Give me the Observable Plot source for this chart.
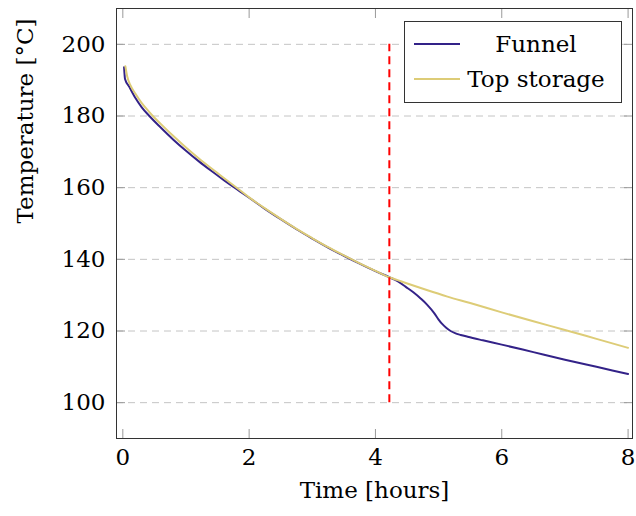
<!DOCTYPE html>
<html>
<head>
<meta charset="utf-8">
<script src="https://cdn.jsdelivr.net/npm/d3@7"></script>
<script src="https://cdn.jsdelivr.net/npm/@observablehq/plot@0.6"></script>
<style>
  body { margin: 0; background: #fff; }
  #wrap { position: relative; width: 636px; height: 516px; }
  #legend { position: absolute; left: 404px; top: 21px; width: 216px; height: 80px;
            border: 1px solid #333; background: #fff; font-family: 'DejaVu Serif', serif; font-size: 23px; color: #000; }
  .row { position: absolute; left: 0; width: 100%; height: 30px; }
  .swatch { position: absolute; left: 9px; width: 46px; height: 2px; top: 14px; }
  .lab { position: absolute; left: 46px; right: 0; text-align: center; top: 0; line-height: 30px; }
</style>
</head>
<body>
<div id="wrap"></div>
<script>
// ---- data ----
const seriesNames = ["Funnel", "Top storage"];
const seriesColors = ["#332288", "#DDCC77"];

const funnelTime = [0.02, 0.035, 0.1, 0.2, 0.3, 0.42, 0.6, 0.8, 1.0, 1.2, 1.4, 1.6, 1.86, 2.0, 2.25, 2.5, 2.75, 3.0, 3.25, 3.5, 3.75, 4.0, 4.22, 4.35, 4.48, 4.6, 4.72, 4.82, 4.93, 5.0, 5.06, 5.12, 5.19, 5.26, 5.35, 5.46, 5.7, 6.0, 6.5, 7.0, 7.5, 8.0];
const funnelTemp = [193.6, 190.3, 188.2, 185.0, 182.4, 180.0, 176.8, 173.4, 170.3, 167.4, 164.7, 162.1, 158.9, 157.2, 154.1, 151.2, 148.4, 145.8, 143.3, 141.0, 138.8, 136.7, 135.0, 133.9, 132.3, 130.8, 129.0, 127.3, 125.0, 123.2, 121.9, 120.9, 120.0, 119.4, 118.9, 118.4, 117.4, 116.2, 114.1, 112.0, 110.0, 108.0];

const storageTime = [0.04, 0.07, 0.12, 0.2, 0.3, 0.42, 0.475, 0.6, 0.8, 1.0, 1.2, 1.4, 1.6, 1.86, 2.0, 2.25, 2.5, 2.75, 3.0, 3.25, 3.5, 3.75, 4.0, 4.22, 4.35, 4.48, 4.8, 5.14, 5.5, 6.0, 6.5, 7.0, 7.5, 8.0];
const storageTemp = [193.9, 191.0, 188.6, 186.2, 183.6, 181.1, 180.0, 177.8, 174.4, 171.2, 168.2, 165.4, 162.7, 159.2, 157.3, 154.2, 151.3, 148.5, 145.9, 143.4, 141.1, 138.9, 136.8, 135.0, 134.2, 133.4, 131.5, 129.6, 127.8, 125.2, 122.7, 120.3, 117.8, 115.3];

const eventTime = [4.22];
const eventTempRange = [100, 200];

const xTicks = [0, 2, 4, 6, 8];
const yTicks = [100, 120, 140, 160, 180, 200];
const xLabel = "Time [hours]";
const yLabel = "Temperature [°C]";

// ---- build rows ----
const funnel = funnelTime.map((t, i) => ({t, T: funnelTemp[i]}));
const storage = storageTime.map((t, i) => ({t, T: storageTemp[i]}));

const tickStroke = "#9a9a9a";
const chart = Plot.plot({
  width: 636,
  height: 516,
  marginLeft: 116,
  marginRight: 4,
  marginTop: 8,
  marginBottom: 78,
  style: {fontFamily: "'DejaVu Serif', serif", fontSize: "23px", background: "white", color: "black", overflow: "visible"},
  x: {domain: [-0.1, 8.07]},
  y: {domain: [90, 210]},
  marks: [
    Plot.ruleY(yTicks, {stroke: "#c4c4c4", strokeWidth: 1, strokeDasharray: "7,5"}),
    Plot.line(funnel, {x: "t", y: "T", stroke: seriesColors[0], strokeWidth: 2, curve: "monotone-x"}),
    Plot.line(storage, {x: "t", y: "T", stroke: seriesColors[1], strokeWidth: 2, curve: "monotone-x"}),
    Plot.ruleX(eventTime, {x: d => d, y1: eventTempRange[0], y2: eventTempRange[1], stroke: "#ff0000", strokeWidth: 2, strokeDasharray: "8,5"}),
    // inner ticks on all four sides
    Plot.axisX(xTicks, {anchor: "bottom", tickSize: 9, dy: -9, tickFormat: () => "", label: null, stroke: tickStroke}),
    Plot.axisX(xTicks, {anchor: "top", tickSize: 9, dy: 9, tickFormat: () => "", label: null, stroke: tickStroke}),
    Plot.axisY(yTicks, {anchor: "left", tickSize: 9, dx: 9, tickFormat: () => "", label: null, stroke: tickStroke}),
    Plot.axisY(yTicks, {anchor: "right", tickSize: 9, dx: -9, tickFormat: () => "", label: null, stroke: tickStroke}),
    // tick labels
    Plot.axisX(xTicks, {anchor: "bottom", tickSize: 0, tickPadding: 10, label: null, fill: "black", fontSize: 23}),
    Plot.axisY(yTicks, {anchor: "left", tickSize: 0, tickPadding: 11, label: null, fill: "black", fontSize: 23}),
    Plot.frame({stroke: "#333"}),
    // axis titles
    Plot.text([xLabel], {frameAnchor: "bottom", dy: 59, text: d => d, fill: "black", fontSize: 23}),
    Plot.text([yLabel], {frameAnchor: "left", dx: -91, rotate: -90, text: d => d, fill: "black", fontSize: 23})
  ]
});

const wrap = document.getElementById("wrap");
wrap.appendChild(chart);

// legend
const legend = d3.select(wrap).append("div").attr("id", "legend");
const rowTops = [7, 42];
seriesNames.forEach((name, i) => {
  const row = legend.append("div").attr("class", "row").style("top", rowTops[i] + "px");
  row.append("div").attr("class", "swatch").style("background", seriesColors[i]);
  row.append("div").attr("class", "lab").text(name);
});
</script>
</body>
</html>
